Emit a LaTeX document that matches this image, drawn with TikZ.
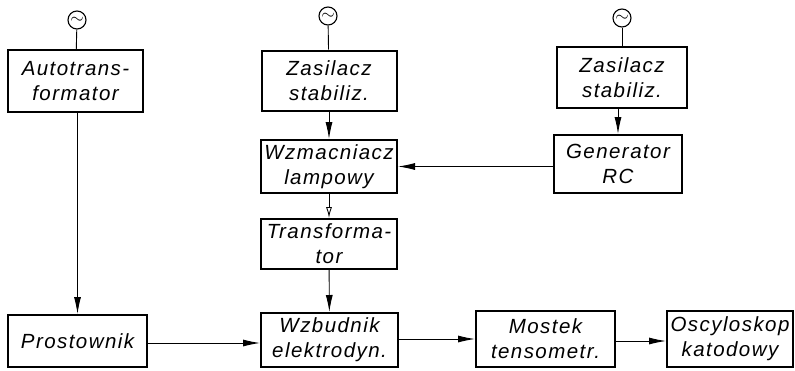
\documentclass[tikz,border=0pt]{standalone}
\usepackage{fontspec}
\setmainfont{Liberation Sans}[ItalicFont={Liberation Sans Italic},LetterSpace=7]
\usetikzlibrary{arrows.meta}
\begin{document}
\begin{tikzpicture}[x=1pt,y=-1pt,
  box/.style={draw,line width=2pt,minimum width=#1,inner sep=0pt,align=center,
    font=\fontsize{20.5}{25}\selectfont\itshape},
  src/.style={draw,circle,line width=1.1pt,minimum size=18pt,inner sep=0pt,font=\fontsize{18}{18}\selectfont},
  conn/.style={line width=0.9pt},
  arr/.style={line width=0.9pt,-{Latex[length=17pt,width=7pt]}},
  oarr/.style={line width=0.9pt,-{Latex[open,length=11pt,width=6pt]}}]
\useasboundingbox (0,0) rectangle (795,370);
\node[box=135pt,minimum height=62pt] (auto) at (75.5,81) {Autotrans-\\formator};
\node[box=135pt,minimum height=60pt] (zas1) at (329,80.5) {Zasilacz\\stabiliz.};
\node[box=130pt,minimum height=61pt] (zas2) at (622,77.5) {Zasilacz\\stabiliz.};
\node[box=128pt,minimum height=58pt] (gen) at (618,164) {Generator\\RC};
\node[box=136pt,minimum height=53pt] (wzm) at (329,166.5) {Wzmacniacz\\lampowy};
\node[box=136pt,minimum height=50pt] (trans) at (329,244) {Transforma-\\tor};
\node[box=139pt,minimum height=52pt] (pros) at (77.5,341) {Prostownik};
\node[box=137pt,minimum height=54pt] (wzb) at (329.5,340) {Wzbudnik\\elektrodyn.};
\node[box=139pt,minimum height=56pt] (most) at (545.5,339) {Mostek\\tensometr.};
\node[box=126pt,minimum height=56pt] (osc) at (730,339) {Oscyloskop\\katodowy};
\node[src] (s1) at (77,20) {$\sim$};
\node[src] (s2) at (328,16) {$\sim$};
\node[src] (s3) at (622,18) {$\sim$};
\draw[conn] (s1) -- (auto);
\draw[conn] (s2) -- (zas1);
\draw[conn] (s3) -- (zas2);
\draw[arr] (auto.south -| pros.north) -- (pros.north);
\draw[arr] (zas1) -- (wzm);
\draw[arr] (zas2.south -| gen.north) -- (gen.north);
\draw[arr] (gen.west |- wzm.east) -- (wzm.east);
\draw[oarr] (wzm) -- (trans);
\draw[arr] (trans) -- (wzb);
\draw[arr] (pros.east |- 0,343) -- (wzb.west |- 0,343);
\draw[arr] (wzb.east |- 0,339) -- (most.west |- 0,339);
\draw[arr] (most.east |- 0,341) -- (osc.west |- 0,341);
\end{tikzpicture}
\end{document}
